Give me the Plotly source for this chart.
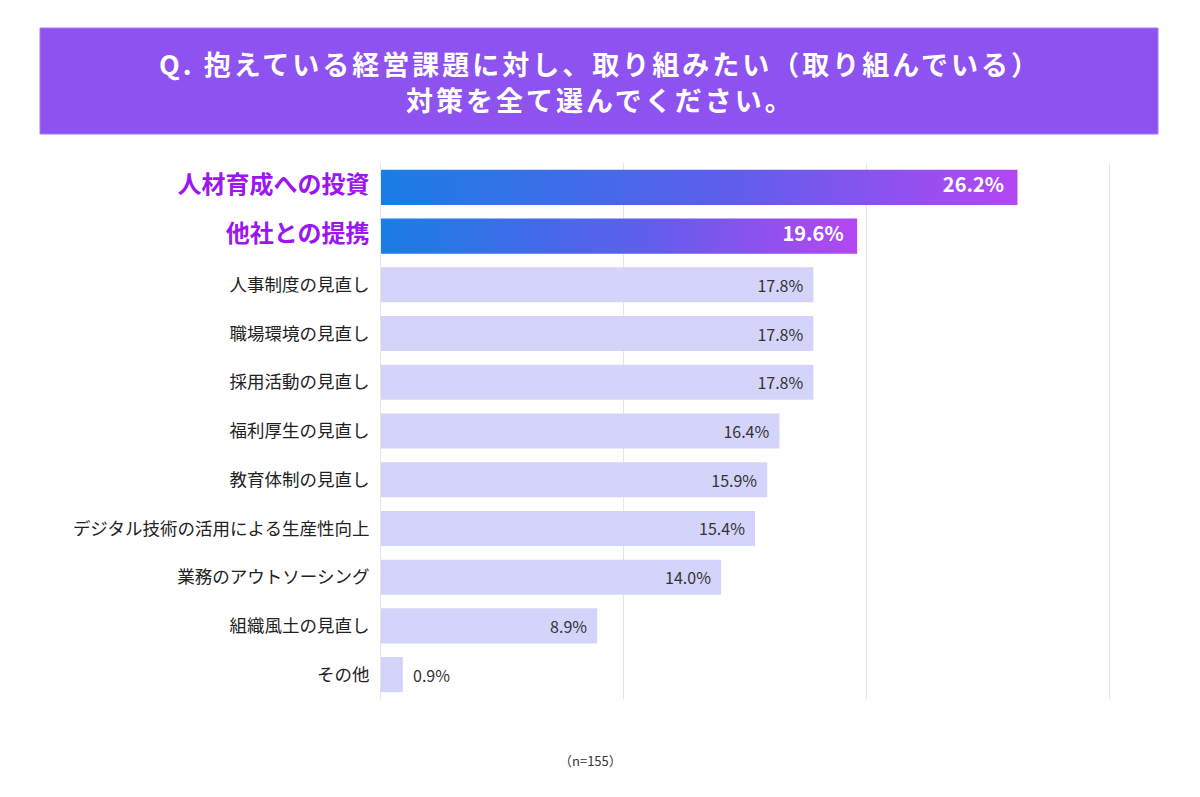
import plotly.graph_objects as go

categories = ["人材育成への投資", "他社との提携", "人事制度の見直し", "職場環境の見直し",
              "採用活動の見直し", "福利厚生の見直し", "教育体制の見直し",
              "デジタル技術の活用による生産性向上", "業務のアウトソーシング",
              "組織風土の見直し", "その他"]
values = [26.2, 19.6, 17.8, 17.8, 17.8, 16.4, 15.9, 15.4, 14.0, 8.9, 0.9]
highlight = [True, True, False, False, False, False, False, False, False, False, False]
title_lines = ["Q. 抱えている経営課題に対し、取り組みたい（取り組んでいる）",
               "対策を全て選んでください。"]

FONT = "Noto Sans CJK JP"
HL_COLOR = "#9B16F0"
BAR_W = 0.72

# ページ座標 -> paper 座標 (プロット領域 381..1111 x 163..699)
def px(x):
    return (x - 381) / 730

def py(y):
    return (699 - y) / 536

idx = list(range(len(categories)))
ticktext = []
for c, h in zip(categories, highlight):
    if h:
        ticktext.append(f"<b><span style='font-size:24px;color:{HL_COLOR}'>{c}</span></b>")
    else:
        ticktext.append(c)

fig = go.Figure()

# 通常のバー
plain = [(i, v) for i, v, h in zip(idx, values, highlight) if not h]
fig.add_trace(go.Bar(
    x=[v for _, v in plain], y=[i for i, _ in plain], orientation="h",
    width=BAR_W, marker=dict(color="#D4D3FA", line=dict(width=0)),
    text=[(f"{v:.1f}%\u00a0\u00a0" if v > 3 else f"\u00a0\u00a0{v:.1f}%") for _, v in plain],
    textposition=["inside" if v > 3 else "outside" for _, v in plain],
    insidetextanchor="end", constraintext="none", cliponaxis=False,
    textfont=dict(family=FONT, size=16, color="#333333"),
    hoverinfo="skip", showlegend=False,
))

# グラデーションのバー（強調）
for i, v, h in zip(idx, values, highlight):
    if not h:
        continue
    fig.add_trace(go.Scatter(
        x=[0, v, v, 0, 0],
        y=[i - BAR_W / 2, i - BAR_W / 2, i + BAR_W / 2, i + BAR_W / 2, i - BAR_W / 2],
        mode="lines", fill="toself", line=dict(width=0),
        fillgradient=dict(type="horizontal",
                          colorscale=[[0, "#1A7DE6"], [0.55, "#5F5EEB"], [1, "#B347F2"]]),
        hoverinfo="skip", showlegend=False,
    ))
    fig.add_trace(go.Scatter(
        x=[v], y=[i], mode="text", text=[f"<b>{v:.1f}%</b>\u00a0\u00a0\u00a0"],
        textposition="middle left",
        textfont=dict(family=FONT, size=20, color="white"),
        hoverinfo="skip", showlegend=False,
    ))

# ヘッダー
fig.add_shape(type="rect", xref="paper", yref="paper",
              x0=px(40), x1=px(1158), y0=py(134), y1=py(28),
              fillcolor="#8E52F0", line=dict(color="#A27BF2", width=1), layer="below")
for line, yy in zip(title_lines, [63, 99]):
    fig.add_annotation(
        xref="paper", yref="paper", x=px(600), y=py(yy), xanchor="center", yanchor="middle",
        showarrow=False,
        text=f"<b><span style='letter-spacing:3px'>{line}</span></b>",
        font=dict(family=FONT, size=27, color="white"),
    )
fig.add_annotation(
    xref="paper", yref="paper", x=px(590), y=py(760), xanchor="center", yanchor="middle",
    showarrow=False,
    text="（n=155）", font=dict(family=FONT, size=13, color="#333333"),
)

fig.update_xaxes(range=[0, 30.05], tickvals=[0, 10, 20, 30], showticklabels=False,
                 showgrid=True, gridcolor="#E6E6E6", gridwidth=1,
                 zeroline=False, showline=False, fixedrange=True)
fig.update_yaxes(range=[10.5, -0.5], tickvals=idx, ticktext=ticktext,
                 showgrid=False, zeroline=False,
                 showline=True, linecolor="#E6E6E6", linewidth=1,
                 ticks="outside", ticklen=7, tickcolor="rgba(0,0,0,0)",
                 tickfont=dict(family=FONT, size=17.5, color="#222222"))

# ページの余白 8px を考慮してマージンを設定
fig.update_layout(
    width=1200, height=797,
    paper_bgcolor="white", plot_bgcolor="white",
    font=dict(family=FONT, size=14, color="#222222"),
    margin=dict(l=373, r=97, t=155, b=106),
    barmode="overlay", showlegend=False,
)

fig.write_html("out.html")
